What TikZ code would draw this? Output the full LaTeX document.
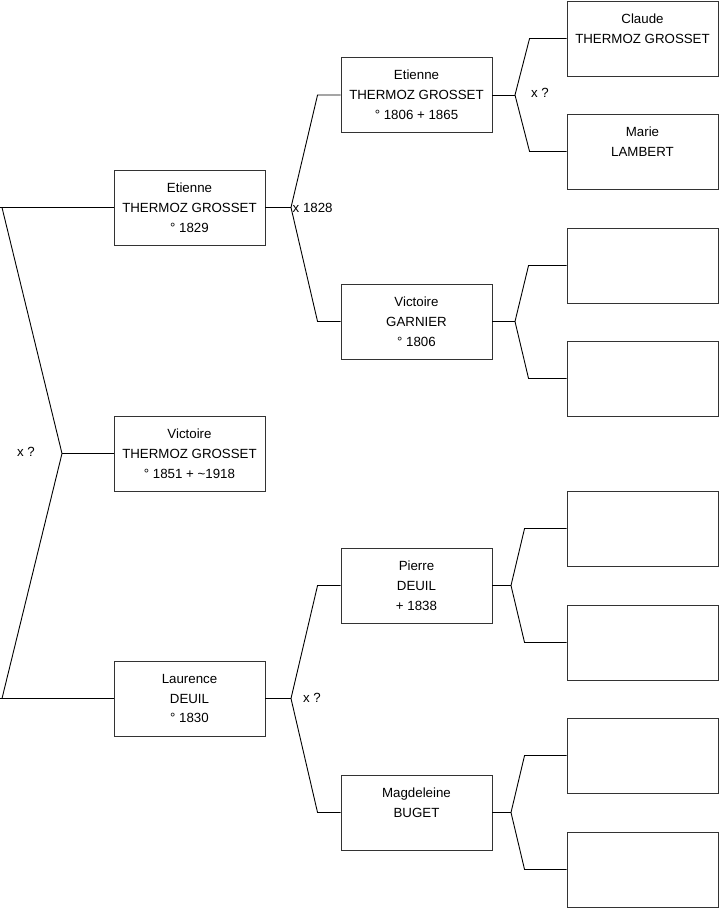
\documentclass[tikz,border=0pt]{standalone}
\usepackage{fontspec}
\setmainfont{Liberation Sans}
\begin{document}
\begin{tikzpicture}[x=1pt,y=-1pt,
  person/.style={draw=black!80,line width=0.9pt,fill=white,minimum width=151pt,minimum height=75pt,inner sep=0pt,align=center,font=\fontsize{13.3}{19.8}\selectfont},
  link/.style={draw=black,line width=0.9pt},
  lbl/.style={font=\fontsize{13.3}{15}\selectfont,inner sep=0pt}]
\useasboundingbox (0,0) rectangle (719,908);
% generation 1
\node[person] (g1) at (189.5,453.5) {Victoire\\THERMOZ GROSSET\\° 1851 + \textasciitilde1918};
% generation 2
\node[person] (e2) at (189.5,207.5) {Etienne\\THERMOZ GROSSET\\° 1829};
\node[person] (l2) at (189.5,698.5) {Laurence\\DEUIL\\° 1830};
% generation 3
\node[person] (e3) at (416.5,95) {Etienne\\THERMOZ GROSSET\\° 1806 + 1865};
\node[person] (v3) at (416.5,321.5) {Victoire\\GARNIER\\° 1806};
\node[person] (p3) at (416.5,585.5) {Pierre\\DEUIL\\+ 1838};
\node[person] (m3) at (416.5,812.5) {Magdeleine\\BUGET\\\mbox{}};
% generation 4
\node[person] (a4) at (642.5,38.5) {Claude\\THERMOZ GROSSET\\\mbox{}};
\node[person] (b4) at (642.5,151.5) {Marie\\LAMBERT\\\mbox{}};
\node[person] (c4) at (642.5,265.5) {};
\node[person] (d4) at (642.5,378.5) {};
\node[person] (f4) at (642.5,528.5) {};
\node[person] (h4) at (642.5,642.5) {};
\node[person] (i4) at (642.5,755.5) {};
\node[person] (j4) at (642.5,869.5) {};
% vertices
\coordinate (v0) at (62,453.5);
\coordinate (v1) at (291,207.5);
\coordinate (v2) at (291,698.5);
\coordinate (v3a) at (515,95);
\coordinate (v3b) at (515,321.5);
\coordinate (v3c) at (511,585.5);
\coordinate (v3d) at (511,812.5);
% connectors
\draw[link] (g1.west) -- (v0);
\draw[link] (v0) -- (2,207.5) -- (0,207.5);
\draw[link] (2,207.5) -- (e2.west);
\draw[link] (v0) -- (2,698.5) -- (0,698.5);
\draw[link] (2,698.5) -- (l2.west);
\draw[link] (e2.east) -- (v1);
\draw[link] (v1) -- ([xshift=-23pt]e3.west) -- (e3.west);
\draw[link] (v1) -- ([xshift=-23pt]v3.west) -- (v3.west);
\draw[link] (l2.east) -- (v2);
\draw[link] (v2) -- ([xshift=-23pt]p3.west) -- (p3.west);
\draw[link] (v2) -- ([xshift=-23pt]m3.west) -- (m3.west);
\draw[link] (e3.east) -- (v3a);
\draw[link] (v3a) -- ([xshift=-37pt]a4.west) -- (a4.west);
\draw[link] (v3a) -- ([xshift=-37pt]b4.west) -- (b4.west);
\draw[link] (v3.east) -- (v3b);
\draw[link] (v3b) -- ([xshift=-38pt]c4.west) -- (c4.west);
\draw[link] (v3b) -- ([xshift=-38pt]d4.west) -- (d4.west);
\draw[link] (p3.east) -- (v3c);
\draw[link] (v3c) -- ([xshift=-42pt]f4.west) -- (f4.west);
\draw[link] (v3c) -- ([xshift=-42pt]h4.west) -- (h4.west);
\draw[link] (m3.east) -- (v3d);
\draw[link] (v3d) -- ([xshift=-42pt]i4.west) -- (i4.west);
\draw[link] (v3d) -- ([xshift=-42pt]j4.west) -- (j4.west);
% labels
\node[lbl] (x0) at (26,451.5) {x ?};
\node[lbl,anchor=west] (x1) at (292.5,207.5) {x 1828};
\node[lbl] (x2) at (312,697.5) {x ?};
\node[lbl] (x3) at (540,92.5) {x ?};
\end{tikzpicture}
\end{document}
